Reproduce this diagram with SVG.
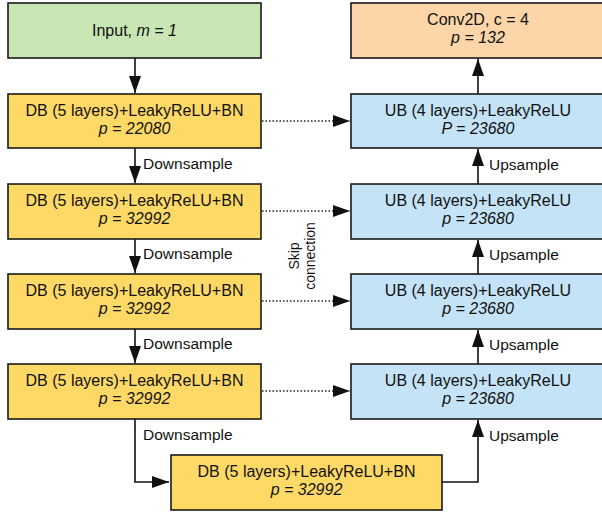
<svg xmlns="http://www.w3.org/2000/svg" width="602" height="512" viewBox="0 0 602 512">
<defs>
<style>
text{font-family:"Liberation Sans",Arial,sans-serif;font-size:16px;fill:#111;}
.box{stroke:#1a1a1a;stroke-width:1.6;}
.green{fill:#c7e6b4;}
.yellow{fill:#ffd966;}
.orange{fill:#fcd5a8;}
.blue{fill:#c4e3f6;}
.c{text-anchor:middle;}
.lbl{font-size:15.5px;}
.rot{font-size:14px;text-anchor:middle;}
.conn{fill:none;stroke:#111;stroke-width:1.6;}
.dot{fill:none;stroke:#222;stroke-width:1.5;stroke-dasharray:1.5 2;}
</style>
<marker id="ah" markerUnits="userSpaceOnUse" markerWidth="18" markerHeight="12" refX="17" refY="6" orient="auto">
<path d="M0,0 L17,6 L0,12 Z" fill="#111"/>
</marker>
</defs>

<g id="connectors">
<path class="conn" d="M135,58 V93" marker-end="url(#ah)"/>
<path class="conn" d="M135,148 V183" marker-end="url(#ah)"/>
<path class="conn" d="M135,239 V273" marker-end="url(#ah)"/>
<path class="conn" d="M135,329 V363" marker-end="url(#ah)"/>
<path class="conn" d="M135,419 V482 H169" marker-end="url(#ah)"/>
<path class="conn" d="M442,482 H478 V420" marker-end="url(#ah)"/>
<path class="conn" d="M478,364 V330" marker-end="url(#ah)"/>
<path class="conn" d="M478,274 V240" marker-end="url(#ah)"/>
<path class="conn" d="M478,184 V149" marker-end="url(#ah)"/>
<path class="conn" d="M478,94 V59" marker-end="url(#ah)"/>
<path class="dot" d="M262,121 H350" marker-end="url(#ah)"/>
<path class="dot" d="M262,211 H350" marker-end="url(#ah)"/>
<path class="dot" d="M262,301 H350" marker-end="url(#ah)"/>
<path class="dot" d="M262,391 H350" marker-end="url(#ah)"/>
<text class="lbl" x="143" y="169">Downsample</text>
<text class="lbl" x="143" y="259">Downsample</text>
<text class="lbl" x="143" y="349">Downsample</text>
<text class="lbl" x="143" y="440">Downsample</text>
<text class="lbl" x="489" y="170">Upsample</text>
<text class="lbl" x="489" y="260">Upsample</text>
<text class="lbl" x="489" y="350">Upsample</text>
<text class="lbl" x="489" y="441">Upsample</text>
<text class="rot" transform="translate(299,256) rotate(-90)">Skip</text>
<text class="rot" transform="translate(315,256) rotate(-90)">connection</text>
</g>

<g id="input">
<rect class="box green" x="8" y="3" width="253" height="55"/>
<text class="c" x="134.5" y="36">Input, <tspan font-style="italic">m = 1</tspan></text>
</g>
<g id="db1">
<rect class="box yellow" x="8" y="94" width="253" height="54"/>
<text class="c" x="134.5" y="116">DB (5 layers)+LeakyReLU+BN</text>
<text class="c" x="134.5" y="134" font-style="italic">p = 22080</text>
</g>
<g id="db2">
<rect class="box yellow" x="8" y="184" width="253" height="55"/>
<text class="c" x="134.5" y="206">DB (5 layers)+LeakyReLU+BN</text>
<text class="c" x="134.5" y="224" font-style="italic">p = 32992</text>
</g>
<g id="db3">
<rect class="box yellow" x="8" y="274" width="253" height="55"/>
<text class="c" x="134.5" y="296">DB (5 layers)+LeakyReLU+BN</text>
<text class="c" x="134.5" y="314" font-style="italic">p = 32992</text>
</g>
<g id="db4">
<rect class="box yellow" x="8" y="364" width="253" height="55"/>
<text class="c" x="134.5" y="386">DB (5 layers)+LeakyReLU+BN</text>
<text class="c" x="134.5" y="404" font-style="italic">p = 32992</text>
</g>
<g id="db5">
<rect class="box yellow" x="171" y="455" width="271" height="55"/>
<text class="c" x="306.5" y="477">DB (5 layers)+LeakyReLU+BN</text>
<text class="c" x="306.5" y="495" font-style="italic">p = 32992</text>
</g>
<g id="conv2d">
<rect class="box orange" x="351" y="3" width="254" height="55"/>
<text class="c" x="478" y="25">Conv2D, c = 4</text>
<text class="c" x="478" y="43" font-style="italic">p = 132</text>
</g>
<g id="ub1">
<rect class="box blue" x="351" y="94" width="254" height="54"/>
<text class="c" x="478" y="116">UB (4 layers)+LeakyReLU</text>
<text class="c" x="478" y="134" font-style="italic">P = 23680</text>
</g>
<g id="ub2">
<rect class="box blue" x="351" y="184" width="254" height="55"/>
<text class="c" x="478" y="206">UB (4 layers)+LeakyReLU</text>
<text class="c" x="478" y="224" font-style="italic">p = 23680</text>
</g>
<g id="ub3">
<rect class="box blue" x="351" y="274" width="254" height="55"/>
<text class="c" x="478" y="296">UB (4 layers)+LeakyReLU</text>
<text class="c" x="478" y="314" font-style="italic">p = 23680</text>
</g>
<g id="ub4">
<rect class="box blue" x="351" y="364" width="254" height="55"/>
<text class="c" x="478" y="386">UB (4 layers)+LeakyReLU</text>
<text class="c" x="478" y="404" font-style="italic">p = 23680</text>
</g>
</svg>
